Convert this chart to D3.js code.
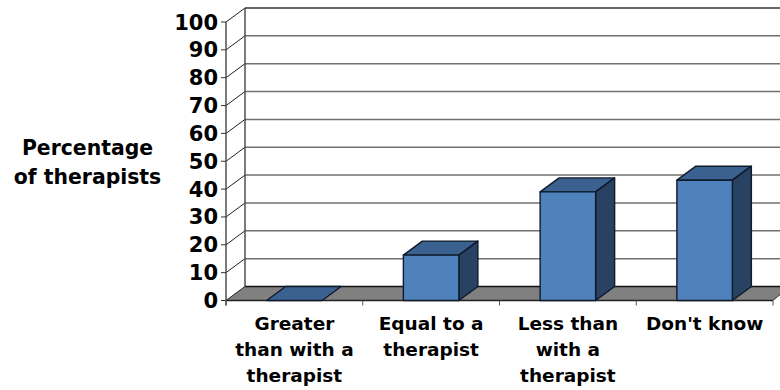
<!DOCTYPE html>
<html>
<head>
<meta charset="utf-8">
<script src="https://cdn.jsdelivr.net/npm/d3@7"></script>
<style>
html,body{margin:0;padding:0;background:#fff}
text{font-family:"DejaVu Sans",Verdana,sans-serif;font-weight:bold;fill:#000}
</style>
</head>
<body>
<svg id="chart" width="780" height="390"></svg>
<script>
const categories = [["Greater","than with a","therapist"],["Equal to a","therapist"],["Less than","with a","therapist"],["Don't know"]];
const values = [0, 16.3, 39, 43.2];
const yTicks = [0,10,20,30,40,50,60,70,80,90,100];
const yTitle = ["Percentage","of therapists"];

const svg = d3.select("#chart");
const dx = 19, dy = -14;
const x = d3.scaleBand().domain(d3.range(categories.length)).range([226,773]).paddingInner(0).paddingOuter(0);
const y = d3.scaleLinear().domain([0,100]).range([300.5,22]);
const barW = 55.5;
const barX = i => x(i) + (x.bandwidth()-barW)/2;
const x0 = x.range()[0], x1 = x.range()[1], y0 = y(0);

// floor of the 3D box
svg.append("polygon")
  .attr("points",[[x0,y0],[x0+dx,y0+dy],[x1+dx,y0+dy],[x1,y0]].join(" "))
  .attr("fill","#808080");
svg.append("line").attr("x1",x0+dx).attr("x2",780).attr("y1",y0+dy).attr("y2",y0+dy)
  .attr("stroke","#111").attr("stroke-width",1.6);
svg.append("line").attr("x1",x0).attr("x2",x1).attr("y1",y0).attr("y2",y0)
  .attr("stroke","#222").attr("stroke-width",1.6);
svg.append("line").attr("x1",x1).attr("x2",x1+7).attr("y1",y0).attr("y2",y0-6)
  .attr("stroke","#444").attr("stroke-width",1);

// gridlines on the back wall and the slanted links on the side wall
const grid = yTicks.filter(d=>d>0);
svg.append("g").selectAll("line").data(grid).join("line")
  .attr("x1",x0+dx).attr("x2",780)
  .attr("y1",d=>y(d)+dy).attr("y2",d=>y(d)+dy)
  .attr("stroke",d=>d===100?"#333":"#707070").attr("stroke-width",1.5);
svg.append("g").selectAll("line").data(yTicks).join("line")
  .attr("x1",x0).attr("x2",x0+dx)
  .attr("y1",d=>y(d)).attr("y2",d=>y(d)+dy)
  .attr("stroke","#222").attr("stroke-width",1);

// wall edges
svg.append("line").attr("x1",x0+dx).attr("x2",x0+dx).attr("y1",y(100)+dy).attr("y2",y0+dy)
  .attr("stroke","#444").attr("stroke-width",1.4);
svg.append("line").attr("x1",x0).attr("x2",x0).attr("y1",y(100)).attr("y2",y0+5)
  .attr("stroke","#444").attr("stroke-width",1.4);

// y axis ticks and labels
svg.append("g").selectAll("line").data(yTicks).join("line")
  .attr("x1",x0-5).attr("x2",x0).attr("y1",d=>y(d)).attr("y2",d=>y(d))
  .attr("stroke","#333").attr("stroke-width",1);
svg.append("g").selectAll("text").data(yTicks).join("text")
  .attr("x",x0-8).attr("y",d=>y(d)+7.5)
  .attr("text-anchor","end").attr("font-size",21)
  .text(d=>d);

// x axis ticks
svg.append("g").selectAll("line").data(d3.range(categories.length+1)).join("line")
  .attr("x1",i=>x0+i*x.step()).attr("x2",i=>x0+i*x.step())
  .attr("y1",y0).attr("y2",y0+5)
  .attr("stroke","#555").attr("stroke-width",1);

// 3D bars; a zero value collapses to its top face only
const bars = svg.append("g").selectAll("g").data(values.map((v,i)=>({v,i}))).join("g")
  .attr("stroke","#0f1a2a").attr("stroke-width",1.4).attr("stroke-linejoin","round");
bars.append("polygon").attr("fill","#3b6190")
  .attr("points",d=>{const a=barX(d.i),b=a+barW,t=y(d.v);
    return [[a,t],[a+dx,t+dy],[b+dx,t+dy],[b,t]].join(" ");});
const raised = bars.filter(d=>d.v>0);
raised.append("polygon").attr("fill","#294162")
  .attr("points",d=>{const b=barX(d.i)+barW,t=y(d.v);
    return [[b,t],[b+dx,t+dy],[b+dx,y0+dy],[b,y0]].join(" ");});
raised.append("rect").attr("fill","#4f81bd")
  .attr("x",d=>barX(d.i)).attr("y",d=>y(d.v))
  .attr("width",barW).attr("height",d=>y0-y(d.v));

// category labels
svg.append("g").selectAll("text").data(categories).join("text")
  .attr("text-anchor","middle").attr("font-size",18.5)
  .attr("transform",(d,i)=>`translate(${x(i)+x.bandwidth()/2},0)`)
  .selectAll("tspan").data(d=>d).join("tspan")
  .attr("x",0).attr("y",(d,i)=>330+i*26).text(d=>d);

// y axis title
svg.append("text").attr("text-anchor","middle").attr("font-size",20.4)
  .selectAll("tspan").data(yTitle).join("tspan")
  .attr("x",87.5).attr("y",(d,i)=>155+i*29).text(d=>d);
</script>
</body>
</html>
